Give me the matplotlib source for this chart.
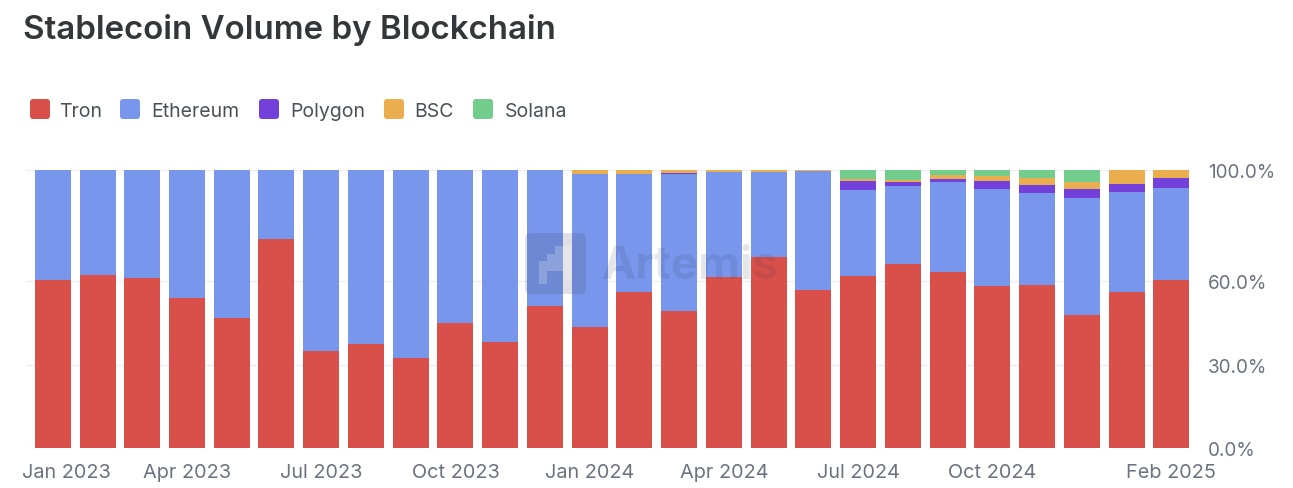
import matplotlib
matplotlib.use("Agg")
import matplotlib.pyplot as plt
import numpy as np
from matplotlib.patches import FancyBboxPatch, Polygon
from matplotlib.transforms import ScaledTranslation

W, H = 1293, 489
plt.rcParams['font.family'] = ['Inter', 'DejaVu Sans']

months = ["Jan 2023","Feb 2023","Mar 2023","Apr 2023","May 2023","Jun 2023","Jul 2023","Aug 2023","Sep 2023",
          "Oct 2023","Nov 2023","Dec 2023","Jan 2024","Feb 2024","Mar 2024","Apr 2024","May 2024","Jun 2024",
          "Jul 2024","Aug 2024","Sep 2024","Oct 2024","Nov 2024","Dec 2024","Jan 2025","Feb 2025"]
tron = [60.4,62.2,61.0,54.0,46.8,75.2,34.9,37.4,32.4,45.0,38.0,51.0,43.5,56.0,49.3,61.5,68.7,56.8,
        61.9,66.2,63.3,58.3,58.6,47.8,56.1,60.4]
ethereum = [39.6,37.8,39.0,46.0,53.2,24.8,65.1,62.6,67.6,55.0,62.0,49.0,55.2,42.7,49.3,37.7,30.7,42.7,
            30.9,28.2,32.4,34.9,33.1,42.1,36.0,33.1]
polygon = [0,0,0,0,0,0,0,0,0,0,0,0,0,0,0.2,0,0,0,3.4,1.2,1.2,2.7,2.8,3.2,2.8,3.6]
bsc = [0,0,0,0,0,0,0,0,0,0,0,0,1.3,1.3,1.2,0.8,0.6,0.5,0.5,0.8,1.2,1.8,2.6,2.6,5.1,2.9]
solana = [0,0,0,0,0,0,0,0,0,0,0,0,0,0,0,0,0,0,3.3,3.6,1.9,2.3,2.9,4.3,0,0]
series = [("Tron",tron,"#D9504A"),("Ethereum",ethereum,"#7896EC"),("Polygon",polygon,"#7340DC"),
          ("BSC",bsc,"#EBAE4E"),("Solana",solana,"#72CD8C")]
tick_months = ["Jan 2023","Apr 2023","Jul 2023","Oct 2023","Jan 2024","Apr 2024","Jul 2024","Oct 2024","Feb 2025"]
y_ticks = [0,30,60,100]

fig = plt.figure(figsize=(W/100,H/100),dpi=100,facecolor="white")
L,R,T,B = 26,1190,171,449
ax = fig.add_axes([L/W,1-B/H,(R-L)/W,(B-T)/H])
x0, dx = 52.8, 44.74
ax.set_xlim((L-x0)/dx,(R-x0)/dx)
ax.set_ylim(0,100)
x = np.arange(len(months))
bottom = np.zeros(len(months))
for name,vals,col in series:
    vals = np.array(vals)
    ax.bar(x,vals,bottom=bottom,width=36/dx,color=col,linewidth=0,zorder=3)
    bottom += vals
ax.yaxis.tick_right()
ax.set_yticks(y_ticks)
ax.set_yticklabels([f"{v:.1f}%" for v in y_ticks],fontsize=13.6,color="#6B7280")
ax.tick_params(axis='y',length=0,pad=13)
ax.grid(axis='y',color="#EFEFF2",linewidth=1,zorder=0)
ax.set_axisbelow(True)
pos = [months.index(m) for m in tick_months]
ax.set_xticks(pos)
ax.set_xticklabels(tick_months,fontsize=14.3,color="#6B7280")
ax.tick_params(axis='x',length=0,pad=11)
lab0 = ax.get_xticklabels()[0]
lab0.set_transform(lab0.get_transform()+ScaledTranslation(14/100,0,fig.dpi_scale_trans))
for s in ax.spines.values():
    s.set_visible(False)

def fx(px): return px/W
def fy(py): return 1-py/H

fig.text(fx(23),fy(30),"Stablecoin Volume by Blockchain",fontsize=23.8,fontweight="semibold",color="#33373A",va="center",ha="left")

sw_x = [30,120,259,384,473]
tx_x = [59.5,151,290,414,505]
for (name,_,col),sx,tx in zip(series,sw_x,tx_x):
    fig.add_artist(FancyBboxPatch((sx+3,H-120+3),14,14,boxstyle="round,pad=3,rounding_size=3",
                                  transform=None,facecolor=col,edgecolor="none"))
    fig.text(fx(tx),fy(112),name,fontsize=14,color="#4B5058",va="center",ha="left")

# watermark
fig.add_artist(FancyBboxPatch((531,H-295+6),49,49,boxstyle="round,pad=6,rounding_size=6",transform=None,
                              facecolor="#3A3F55",edgecolor="none",alpha=0.16,zorder=10))
fig.add_artist(Polygon([(539,H-285),(539,H-262),(547,H-262),(547,H-255),(555,H-255),(555,H-247),(571,H-247),(571,H-285),
                        (563,H-285),(563,H-272),(547,H-272),(547,H-285)],
                       closed=True,transform=None,facecolor="white",edgecolor="none",alpha=0.22,zorder=11))
fig.text(fx(602),fy(267),"Artemis",fontsize=33,fontweight="bold",color="#3A3F55",alpha=0.13,va="center",ha="left",zorder=11)

fig.savefig("out.png",dpi=100,facecolor="white")
